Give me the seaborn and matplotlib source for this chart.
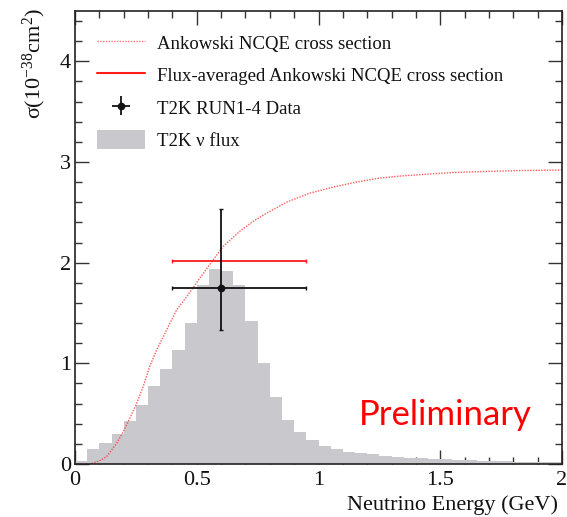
import numpy as np
import pandas as pd
import matplotlib
matplotlib.use("Agg")
import matplotlib.pyplot as plt
from matplotlib.lines import Line2D
from matplotlib.patches import Patch
from matplotlib.ticker import MultipleLocator
import seaborn as sns

# ---------------- data ----------------
bin_edges = [round(0.05 * i, 2) for i in range(41)]
flux_heights = [0.025, 0.146, 0.21, 0.30, 0.43, 0.59, 0.77, 0.94, 1.13, 1.40,
                1.78, 1.94, 1.92, 1.78, 1.42, 1.00, 0.67, 0.44, 0.315, 0.24,
                0.18, 0.146, 0.12, 0.106, 0.096, 0.083, 0.073, 0.063, 0.056, 0.050,
                0.045, 0.040, 0.036, 0.032, 0.028, 0.025, 0.022, 0.020, 0.018, 0.016]

xsec_energy = [0.0, 0.06, 0.10, 0.13, 0.171, 0.198, 0.225, 0.253, 0.280, 0.307,
               0.335, 0.376, 0.417, 0.458, 0.499, 0.553, 0.608, 0.676, 0.731,
               0.786, 0.868, 0.963, 1.059, 1.154, 1.25, 1.332, 1.45, 1.55,
               1.673, 1.824, 2.0]
xsec_value = [0.0, 0.0, 0.03, 0.073, 0.206, 0.32, 0.455, 0.60, 0.77, 0.97,
              1.13, 1.33, 1.53, 1.66, 1.80, 1.98, 2.16, 2.31, 2.41,
              2.49, 2.60, 2.69, 2.75, 2.80, 2.84, 2.86, 2.88, 2.895,
              2.905, 2.915, 2.92]

data_x = [0.6]
data_y = [1.75]
data_xerr_lo = [0.2]
data_xerr_hi = [0.35]
data_yerr_lo = [0.42]
data_yerr_hi = [0.78]

fluxavg_y = [2.02]

labels = ["Ankowski NCQE cross section",
          "Flux-averaged Ankowski NCQE cross section",
          "T2K RUN1-4 Data",
          "T2K \u03bd flux"]

# ---------------- style ----------------
sns.set_style("ticks")
plt.rcParams["font.family"] = ["Liberation Serif", "DejaVu Serif"]
plt.rcParams["mathtext.fontset"] = "custom"
plt.rcParams["mathtext.rm"] = "Liberation Serif"
plt.rcParams["mathtext.it"] = "Liberation Serif:italic"

W, H = 567, 517
fig = plt.figure(figsize=(W / 100, H / 100), dpi=100)
ax = fig.add_axes([75 / W, 1 - 464 / H, (562 - 75) / W, (464 - 11) / H])

flux_color = "#c9c9cd"
centers = [(bin_edges[i] + bin_edges[i + 1]) / 2 for i in range(len(flux_heights))]
df_flux = pd.DataFrame({"E": centers, "w": flux_heights})
sns.histplot(data=df_flux, x="E", weights="w", bins=bin_edges, element="step",
             fill=True, color=flux_color, alpha=1.0, linewidth=0, ax=ax)

df_x = pd.DataFrame({"E": xsec_energy, "s": xsec_value})
sns.lineplot(data=df_x, x="E", y="s", color="#ff3030", linestyle=(0, (1, 1)),
             linewidth=1.0, alpha=0.8, ax=ax)

ax.errorbar(data_x, fluxavg_y, xerr=[data_xerr_lo, data_xerr_hi], fmt="none",
            ecolor="#ff1a1a", elinewidth=1.3, capsize=1.5, capthick=1.0)
ax.errorbar(data_x, data_y, xerr=[data_xerr_lo, data_xerr_hi],
            yerr=[data_yerr_lo, data_yerr_hi], fmt="o", color="#111111",
            markersize=4.5, elinewidth=1.3, capsize=1.5, capthick=1.0)

ax.set_xlim(0, 2)
ax.set_ylim(0, 4.5)
ax.xaxis.set_major_locator(MultipleLocator(0.5))
ax.xaxis.set_minor_locator(MultipleLocator(0.1))
ax.yaxis.set_major_locator(MultipleLocator(1))
ax.yaxis.set_minor_locator(MultipleLocator(0.2))
ax.set_xticks([0, 0.5, 1, 1.5, 2])
ax.set_xticklabels(["0", "0.5", "1", "1.5", "2"])
ax.set_yticks([0, 1, 2, 3, 4])
ax.set_yticklabels(["0", "1", "2", "3", "4"])

for s in ax.spines.values():
    s.set_visible(True)
    s.set_linewidth(1.2)
    s.set_color("#222222")

ax.tick_params(which="both", direction="in", top=True, right=True,
               color="#333333", width=1.0, labelsize=16, labelcolor="#111111")
ax.tick_params(which="major", length=10)
ax.tick_params(which="minor", length=5)
ax.tick_params(axis="x", which="major", pad=5)
ax.tick_params(axis="y", which="major", pad=3)

ax.set_xlabel("")
ax.set_ylabel("")
fig.text(558 / W, 1 - 495 / H, "Neutrino Energy (GeV)", fontsize=16,
         color="#111111", ha="right", va="top")
fig.text(34 / W, 1 - 8 / H, "\u03c3(10$^{-38}$cm$^{2}$)", fontsize=16,
         color="#111111", rotation=90, ha="center", va="top")

handles = [
    Line2D([], [], color="#ff5050", linestyle=(0, (1, 1)), linewidth=1.0, alpha=0.8),
    Line2D([], [], color="#ff1a1a", linewidth=1.5),
    ax.errorbar([], [], xerr=[], yerr=[], fmt="o", color="#111111",
                markersize=4.5, elinewidth=1.3),
    Patch(facecolor=flux_color, edgecolor="none"),
]
leg = ax.legend(handles, labels, loc="upper left",
                bbox_to_anchor=(97 / W, 1 - 33 / H), bbox_transform=fig.transFigure,
                frameon=False, fontsize=13.5, handlelength=2.56, handleheight=1.2,
                handletextpad=0.64, labelspacing=0.66, borderpad=0, borderaxespad=0)
for t in leg.get_texts():
    t.set_color("#111111")

fig.text(445 / W, 1 - 415 / H, "Preliminary", color="#ff0000", fontsize=25,
         family=["Lato", "DejaVu Sans"], ha="center", va="center")

fig.savefig("out.png", dpi=100, facecolor="white")
